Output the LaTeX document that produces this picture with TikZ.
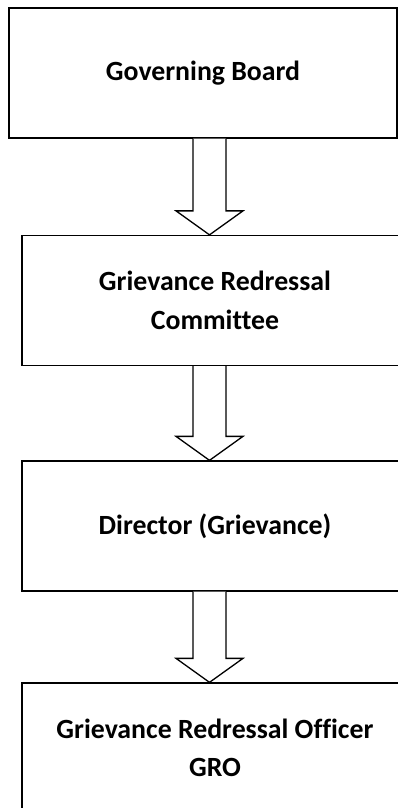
\documentclass[tikz,border=0pt]{standalone}
\usepackage{fontspec}
\setmainfont{Carlito}[Ligatures=NoCommon]
\usetikzlibrary{calc}

\begin{document}
\begin{tikzpicture}[x=1pt,y=1pt,
  levelbox/.style={draw=black,line width=1.3pt,fill=white,minimum height=130pt,
    align=center,font=\fontsize{27.8}{38.5}\selectfont\bfseries,inner sep=0pt},
  hollowarrow/.style={draw=black,line width=1.3pt,fill=white,line join=miter}]
\useasboundingbox (0.000000,0.000000) rectangle (398.000000,-808.000000);
\clip (0.000000,0.000000) rectangle (398.000000,-808.000000);
% Drawing boxes
\node[levelbox,minimum width=388pt] (gov) at (203.000000,-73.000000) {Governing Board};
\node[levelbox,minimum width=386pt] (grc) at (215.000000,-300.500000) {Grievance Redressal\\Committee};
\node[levelbox,minimum width=386pt] (dir) at (215.000000,-526.000000) {Director (Grievance)};
\node[levelbox,minimum width=386pt] (gro) at (215.000000,-748.000000) {Grievance Redressal Officer\\GRO};
% Done with boxes; drawing arrows
\foreach \from/\to in {gov/grc,grc/dir,dir/gro}{
  \draw[hollowarrow] let \p1=(\from.south), \p2=(\to.north) in
    (193.000000pt,\y1) -- (193.000000pt,\y2+24pt) -- (176.000000pt,\y2+24pt)
    -- (209.500000pt,\y2) -- (243.000000pt,\y2+24pt) -- (226.000000pt,\y2+24pt)
    -- (226.000000pt,\y1);
}
% Done with arrows
\end{tikzpicture}
\end{document}
